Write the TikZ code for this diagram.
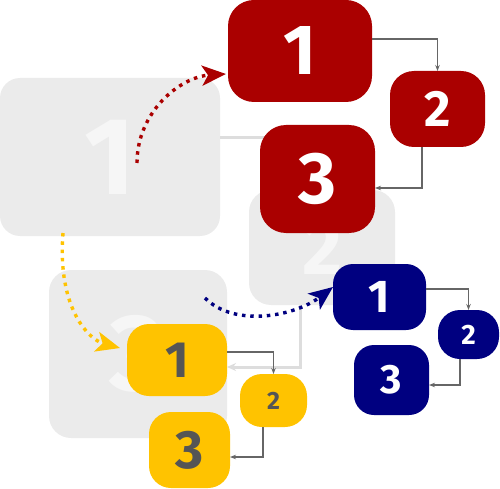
\documentclass[tikz,border=0pt]{standalone}
\usepackage{fontspec}
\setmainfont{Fira Sans}
\usetikzlibrary{arrows.meta}
\definecolor{cred}{HTML}{AA0000}
\definecolor{cblue}{HTML}{000080}
\definecolor{cyel}{HTML}{FFC300}
\definecolor{cgbox}{HTML}{EBEBEB}
\definecolor{cgtxt}{HTML}{F6F6F6}
\definecolor{cconn}{HTML}{666666}
\definecolor{cgconn}{HTML}{DDDDDD}
\definecolor{cytxt}{HTML}{555555}
\tikzset{
  box/.style={inner sep=0pt, outer sep=0pt, anchor=center},
  gbox/.style={box, fill=cgbox, text=cgtxt},
  rbox/.style={box, fill=cred, text=white},
  bbox/.style={box, fill=cblue, text=white},
  ybox/.style={box, fill=cyel, text=cytxt},
  conn/.style={draw=cconn, line width=1.4pt, -{Stealth[length=6pt,width=4.5pt]}},
  gconn/.style={draw=cgconn, line width=3pt, -{Stealth[length=9pt,width=8pt]}},
  dotarrow/.style={line width=3.4pt, dash pattern=on 3.5pt off 4.8pt, -{Stealth[length=24pt,width=20pt,inset=6pt]}},
}
\newcommand{\dg}[2]{\fontsize{#1}{#1}\selectfont\bfseries #2}
\begin{document}
\begin{tikzpicture}[x=1pt,y=-1pt]
\useasboundingbox (0,0) rectangle (500,489);
% gray background diagram
\node[gbox, minimum width=220pt, minimum height=158pt, rounded corners=20pt] (g1) at (110,157) {\dg{110}{1}};
\node[gbox, minimum width=146pt, minimum height=115pt, rounded corners=22pt] (g2) at (322,247.5) {\dg{77}{2}};
\node[gbox, minimum width=178pt, minimum height=168pt, rounded corners=22pt] (g3) at (138,354) {\dg{109}{3}};
\draw[gconn] ([yshift=19pt]g1.east) -| ([xshift=-22pt]g2.north);
\draw[gconn] ([xshift=-22pt]g2.south) |- ([yshift=-13pt]g3.east);
% red
\node[rbox, minimum width=144pt, minimum height=102pt, rounded corners=26pt] (r1) at (300,51) {\dg{71}{1}};
\node[rbox, minimum width=95pt, minimum height=76pt, rounded corners=24pt] (r2) at (437.5,109) {\dg{51}{2}};
\node[rbox, minimum width=115pt, minimum height=108pt, rounded corners=26pt] (r3) at (317.5,179) {\dg{73}{3}};
\draw[conn] ([yshift=12pt]r1.east) -| (r2.north);
\draw[conn] ([xshift=-15.5pt]r2.south) |- ([yshift=-9pt]r3.east);
% yellow
\node[ybox, minimum width=100pt, minimum height=72pt, rounded corners=22pt] (y1) at (177,360) {\dg{51}{1}};
\node[ybox, minimum width=67pt, minimum height=53pt, rounded corners=22pt] (y2) at (273.5,400.5) {\dg{25}{2}};
\node[ybox, minimum width=81pt, minimum height=76pt, rounded corners=22pt] (y3) at (189.5,450) {\dg{54}{3}};
\draw[conn] ([yshift=8pt]y1.east) -| (y2.north);
\draw[conn] ([xshift=-10.5pt]y2.south) |- ([yshift=-7pt]y3.east);
% blue
\node[bbox, minimum width=93pt, minimum height=66pt, rounded corners=20pt] (b1) at (379.5,297) {\dg{46}{1}};
\node[bbox, minimum width=61pt, minimum height=49pt, rounded corners=22pt] (b2) at (468.5,334.5) {\dg{28}{2}};
\node[bbox, minimum width=75pt, minimum height=70pt, rounded corners=20pt] (b3) at (391.5,380) {\dg{41}{3}};
\draw[conn] ([yshift=8pt]b1.east) -| (b2.north);
\draw[conn] ([xshift=-8.5pt]b2.south) |- ([yshift=-5pt]b3.east);
% dotted transition arrows
\coordinate (rs) at (137,163);
\coordinate (ys) at (63,233);
\coordinate (bs) at (205,298);
\draw[dotarrow, cred] (rs) .. controls (137,112) and (180,77) .. ([xshift=-2pt,yshift=-23pt]r1.west);
\draw[dotarrow, cyel] (ys) .. controls (57,310) and (90,340) .. ([xshift=-7pt,yshift=12pt]y1.west);
\draw[dotarrow, cblue] (bs) .. controls (235,328) and (295,316) .. ([yshift=10pt]b1.west);
\end{tikzpicture}
\end{document}
